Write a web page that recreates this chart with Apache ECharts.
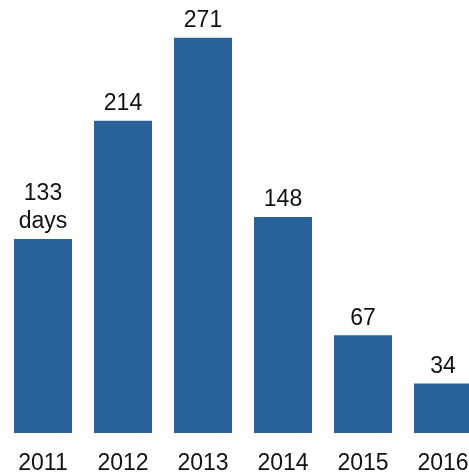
<!DOCTYPE html>
<html>
<head>
<meta charset="utf-8">
<script src="https://cdn.jsdelivr.net/npm/echarts@6/dist/echarts.min.js"></script>
<style>
  html, body { margin: 0; padding: 0; background: #fff; overflow: hidden; }
  #wrap { width: 469px; height: 475px; overflow: hidden; }
  /* the chart is slightly wider than the view so the last bar is cut at the edge */
  #chart { width: 483px; height: 475px; }
</style>
</head>
<body>
<div id="wrap"><div id="chart"></div></div>
<script>
// Years and number of days per year
const years = ['2011', '2012', '2013', '2014', '2015', '2016'];
const days = [133, 214, 271, 148, 67, 34];

const chart = echarts.init(document.getElementById('chart'), null, { renderer: 'canvas' });

chart.setOption({
  animation: false,
  grid: { left: 3, right: 0, top: 10, bottom: 42, containLabel: false },
  xAxis: {
    type: 'category',
    data: years,
    axisLine: { show: false },
    axisTick: { show: false },
    axisLabel: {
      color: '#111',
      fontFamily: 'Liberation Sans, Arial, sans-serif',
      fontSize: 23,
      margin: 19
    }
  },
  yAxis: {
    type: 'value',
    min: 0,
    max: 290,
    show: false,
    splitLine: { show: false }
  },
  series: [{
    type: 'bar',
    data: days,
    barWidth: 58,
    itemStyle: { color: '#29629a' },
    label: {
      show: true,
      position: 'top',
      distance: 3,
      color: '#111',
      fontFamily: 'Liberation Sans, Arial, sans-serif',
      fontSize: 23,
      lineHeight: 28,
      formatter: p => p.dataIndex === 0 ? p.value + '\ndays' : String(p.value)
    }
  }]
});
</script>
</body>
</html>
